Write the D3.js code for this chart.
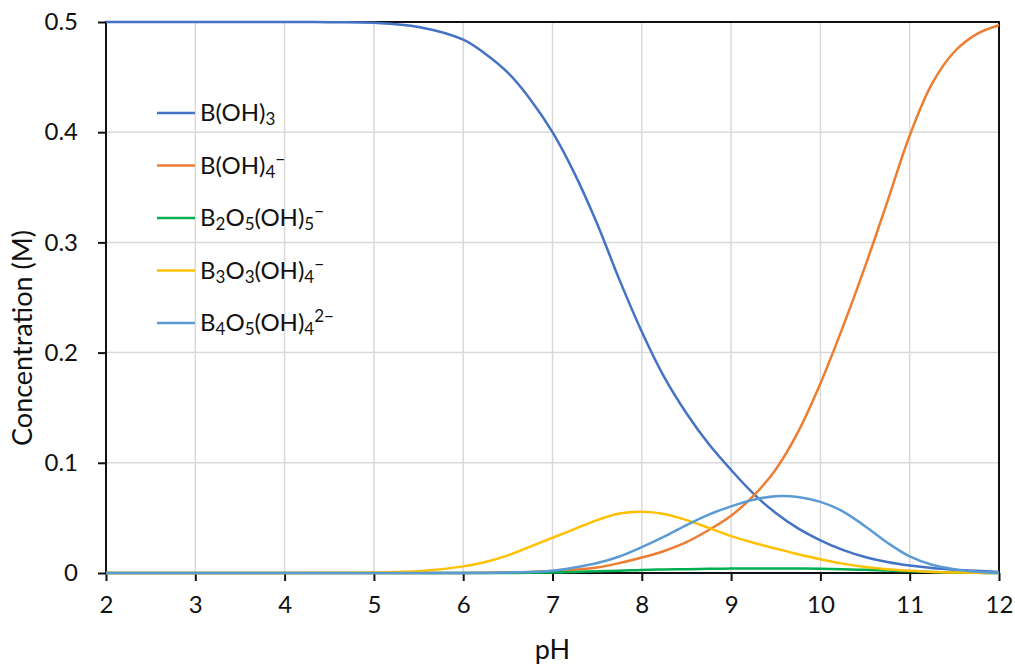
<!DOCTYPE html>
<html lang="en">
<head>
  <meta charset="utf-8">
  <title>Borate speciation vs pH</title>
  <script src="https://cdn.jsdelivr.net/npm/d3@7"></script>
  <style>
    body { margin: 0; background: #fff; }
    text { font-family: Lato, "Open Sans", sans-serif; fill: #111; }
  </style>
</head>
<body>
<svg class="chart"></svg>
<script>
  // 1. Data
  var pH = [2, 3, 4, 4.5, 5, 5.5, 6, 6.25, 6.5, 6.75, 7, 7.25, 7.5, 7.75, 8, 8.25, 8.5, 8.75,
            9, 9.25, 9.5, 9.75, 10, 10.25, 10.5, 10.75, 11, 11.25, 11.5, 11.75, 12];

  var boricAcid = [0.5, 0.5, 0.5, 0.4998, 0.4993, 0.4955, 0.484, 0.471, 0.454, 0.43, 0.40, 0.362,
                   0.317, 0.266, 0.219, 0.178, 0.145, 0.117, 0.0935, 0.072, 0.0545, 0.0405, 0.0297,
                   0.021, 0.0145, 0.010, 0.0068, 0.0045, 0.003, 0.002, 0.001];
  var borate = [0, 0, 0, 0, 0, 0, 0, 0.0003, 0.0006, 0.001, 0.0018, 0.003, 0.005, 0.009, 0.014,
                0.020, 0.028, 0.039, 0.052, 0.070, 0.094, 0.128, 0.172, 0.223, 0.278, 0.337,
                0.397, 0.444, 0.473, 0.489, 0.497];
  var diborate = [0, 0, 0, 0, 0, 0, 0, 0, 0, 0.0002, 0.0005, 0.001, 0.0015, 0.002, 0.0028,
                  0.0032, 0.0035, 0.0038, 0.004, 0.004, 0.004, 0.004, 0.0038, 0.0034, 0.003,
                  0.0022, 0.0015, 0.0009, 0.0005, 0.0002, 0];
  var triborate = [0, 0, 0, 0.0002, 0.0005, 0.0015, 0.006, 0.010, 0.016, 0.024, 0.032, 0.040,
                   0.048, 0.054, 0.0555, 0.0535, 0.048, 0.041, 0.0335, 0.0275, 0.0222, 0.017,
                   0.0125, 0.0085, 0.0055, 0.0033, 0.002, 0.001, 0.0005, 0.0002, 0];
  var tetraborate = [0, 0, 0, 0, 0, 0, 0, 0.0001, 0.0004, 0.001, 0.002, 0.005, 0.009, 0.015,
                     0.0235, 0.033, 0.0435, 0.053, 0.0605, 0.0665, 0.0697, 0.069, 0.0645, 0.056,
                     0.0425, 0.0275, 0.015, 0.0075, 0.0035, 0.0012, 0];

  var xTicks = [2, 3, 4, 5, 6, 7, 8, 9, 10, 11, 12];
  var yTicks = [0, 0.1, 0.2, 0.3, 0.4, 0.5];

  // legend labels: [text, "n" normal | "b" subscript | "p" superscript]
  var labels = [
    [["B(OH)", "n"], ["3", "b"]],
    [["B(OH)", "n"], ["4", "b"], ["\u2212", "p"]],
    [["B", "n"], ["2", "b"], ["O", "n"], ["5", "b"], ["(OH)", "n"], ["5", "b"], ["\u2212", "p"]],
    [["B", "n"], ["3", "b"], ["O", "n"], ["3", "b"], ["(OH)", "n"], ["4", "b"], ["\u2212", "p"]],
    [["B", "n"], ["4", "b"], ["O", "n"], ["5", "b"], ["(OH)", "n"], ["4", "b"], ["2\u2212", "p"]]
  ];
  var seriesValues = [boricAcid, borate, diborate, triborate, tetraborate];
  var colors = ["#4472C4", "#ED7D31", "#00B050", "#FFC000", "#5B9BD5"];

  // 2. Layout
  var W = 1015, H = 664,
      plotL = 106, plotR = 999, plotT = 22, plotB = 573;

  var svg = d3.select(".chart").attr("width", W).attr("height", H);

  var x = d3.scaleLinear().domain([2, 12]).range([plotL, plotR]);
  var y = d3.scaleLinear().domain([0, 0.5]).range([plotB, plotT]);

  // 3. Grid
  svg.append("g").selectAll("line").data(xTicks.slice(1, -1)).enter().append("line")
    .attr("x1", d => x(d)).attr("x2", d => x(d)).attr("y1", plotT).attr("y2", plotB)
    .style("stroke", "#d9d9d9").style("stroke-width", "1.5px");
  svg.append("g").selectAll("line").data(yTicks.slice(1, -1)).enter().append("line")
    .attr("y1", d => y(d)).attr("y2", d => y(d)).attr("x1", plotL).attr("x2", plotR)
    .style("stroke", "#d9d9d9").style("stroke-width", "1.5px");

  // 4. Frame
  svg.append("rect")
    .attr("x", plotL).attr("y", plotT).attr("width", plotR - plotL).attr("height", plotB - plotT)
    .style("fill", "none").style("stroke", "#111").style("stroke-width", "2px");

  // 5. Axes
  var xAxis = svg.append("g").attr("transform", "translate(0," + plotB + ")")
    .call(d3.axisBottom(x).tickValues(xTicks).tickSize(8).tickPadding(15).tickFormat(d3.format("d")));
  var yAxis = svg.append("g").attr("transform", "translate(" + plotL + ",0)")
    .call(d3.axisLeft(y).tickValues(yTicks).tickSize(8).tickPadding(20)
      .tickFormat(d => d === 0 ? "0" : d3.format(".1f")(d)));
  [xAxis, yAxis].forEach(function(a) {
    a.select(".domain").remove();
    a.selectAll(".tick line").style("stroke", "#111").style("stroke-width", "2px");
    a.selectAll(".tick text").style("font-size", "24px").style("fill", "#111")
      .style("font-family", "Lato, 'Open Sans', sans-serif");
  });

  // 6. Lines
  var line = d3.line().x((d, i) => x(pH[i])).y(d => y(d)).curve(d3.curveCatmullRom.alpha(0.5));
  svg.append("g").selectAll("path").data(seriesValues).enter().append("path")
    .attr("d", line)
    .style("fill", "none")
    .style("stroke", (d, i) => colors[i])
    .style("stroke-width", "2.5px");

  // 7. Legend
  var lg = svg.append("g").selectAll("g").data(labels).enter().append("g")
    .attr("transform", (d, i) => "translate(157," + (113 + i * 52.5) + ")");
  lg.append("line").attr("x1", 0).attr("x2", 38).attr("y1", 0).attr("y2", 0)
    .style("stroke", (d, i) => colors[i]).style("stroke-width", "2.5px");
  var lt = lg.append("text").attr("x", 43).attr("y", 8).style("font-size", "24px");
  lt.each(function(parts) {
    var t = d3.select(this), shift = 0;
    parts.forEach(function(p) {
      var target = p[1] === "b" ? 4 : p[1] === "p" ? -9 : 0;
      t.append("tspan").attr("dy", target - shift)
        .style("font-size", p[1] === "n" ? "24px" : "17px").text(p[0]);
      shift = target;
    });
  });

  // 8. Axis titles
  svg.append("text").attr("x", (plotL + plotR) / 2).attr("y", 659)
    .style("text-anchor", "middle").style("font-size", "27px").text("pH");
  svg.append("text").attr("transform", "translate(32,338) rotate(-90)")
    .style("text-anchor", "middle").style("font-size", "27px").text("Concentration (M)");
</script>
</body>
</html>
